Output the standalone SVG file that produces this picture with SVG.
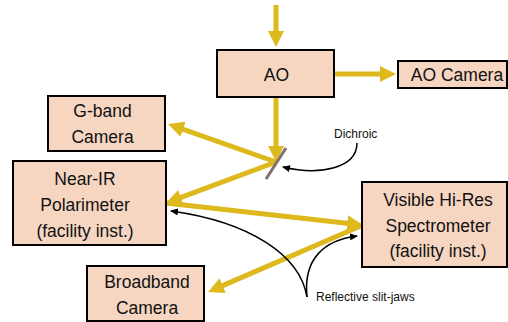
<svg xmlns="http://www.w3.org/2000/svg" width="508" height="322" viewBox="0 0 508 322">
<defs>
<marker id="ya" viewBox="0 0 16 16" refX="2" refY="8" markerWidth="16" markerHeight="16" markerUnits="userSpaceOnUse" orient="auto">
<path d="M0,0 L16,8 L0,16 z" fill="#DDB91E"/>
</marker>
<marker id="ka" viewBox="0 0 8 7" refX="7" refY="3.5" markerWidth="8" markerHeight="7" markerUnits="userSpaceOnUse" orient="auto">
<path d="M0,0 L8,3.5 L0,7 z" fill="#000"/>
</marker>
<style>
.box{fill:#F7D6C1;stroke:#000;stroke-width:2}
.t{font-family:"Liberation Sans",Arial,sans-serif;font-size:17.5px;fill:#111;text-anchor:middle}
.s{font-family:"Liberation Sans",Arial,sans-serif;font-size:12px;fill:#111}
.y{stroke:#DDB91E;stroke-width:5;fill:none;marker-end:url(#ya)}
.k{stroke:#000;stroke-width:1.5;fill:none;marker-end:url(#ka)}
</style>
</defs>
<rect width="508" height="322" fill="#fff"/>
<g id="connectors">
<line class="y" x1="276" y1="5" x2="276" y2="33"/>
<line class="y" x1="334" y1="74" x2="382" y2="74"/>
<line class="y" x1="276" y1="97" x2="276" y2="148"/>
<line class="y" x1="276" y1="162" x2="181.2" y2="128.6"/>
<line class="y" x1="276" y1="162" x2="179.1" y2="198.1"/>
<line class="y" x1="166" y1="203" x2="349.1" y2="223.4"/>
<line class="y" x1="363" y1="225" x2="220.9" y2="286.4"/>
<path class="k" d="M357,143 C357,168 320,176 283,167"/>
<path class="k" d="M307,297 C300,255 250,222 171,211"/>
<path class="k" d="M307,297 C303,258 325,240 357,236"/>
</g>
<g id="mirror"><line x1="286" y1="148" x2="266" y2="179" stroke="#7F6F6F" stroke-width="3"/></g>
<g id="ao"><rect class="box" x="217" y="50" width="117" height="47"/><text class="t" x="276.5" y="81">AO</text></g>
<g id="ao-camera"><rect class="box" x="398" y="61" width="109" height="27"/><text class="t" x="457" y="80.5">AO Camera</text></g>
<g id="g-band"><rect class="box" x="48" y="96" width="117" height="55"/><text class="t" x="102.5" y="117">G-band</text><text class="t" x="102.5" y="143">Camera</text></g>
<g id="near-ir"><rect class="box" x="13" y="161" width="153" height="84"/><text class="t" x="85" y="185">Near-IR</text><text class="t" x="85" y="211">Polarimeter</text><text class="t" x="85" y="237">(facility inst.)</text></g>
<g id="visible"><rect class="box" x="362" y="182" width="145" height="85"/><text class="t" x="438" y="206">Visible Hi-Res</text><text class="t" x="438" y="232">Spectrometer</text><text class="t" x="438" y="257">(facility inst.)</text></g>
<g id="broadband"><rect class="box" x="87" y="266" width="117" height="55"/><text class="t" x="147" y="288">Broadband</text><text class="t" x="147" y="314">Camera</text></g>
<g id="labels"><text class="s" x="334" y="138">Dichroic</text><text class="s" x="316" y="301">Reflective slit-jaws</text></g>
</svg>
